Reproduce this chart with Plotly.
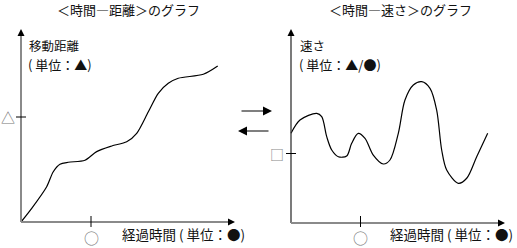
import plotly.graph_objects as go

# ---- data -------------------------------------------------------------
# distance graph: elapsed time (unit ○) vs distance travelled (unit △)
dist_time = [0, 0.153, 0.367, 0.461, 0.557, 0.676, 0.914, 1.081, 1.296, 1.510,
             1.653, 1.819, 1.961, 2.104, 2.247, 2.604, 2.810]
dist_value = [0, 0.130, 0.336, 0.479, 0.550, 0.569, 0.588, 0.670, 0.724, 0.765,
              0.845, 1.050, 1.226, 1.321, 1.369, 1.407, 1.486]

# speed graph: elapsed time (unit ○) vs speed (unit □)
speed_time = [0, 0.129, 0.370, 0.442, 0.514, 0.586, 0.681, 0.801, 0.873, 0.968,
              1.065, 1.184, 1.328, 1.424, 1.544, 1.640, 1.760, 1.881, 2.0, 2.096,
              2.168, 2.240, 2.407, 2.528, 2.672, 2.830]
speed_value = [1.281, 1.471, 1.567, 1.519, 1.233, 1.043, 0.947, 0.957, 1.139, 1.281,
               1.210, 0.971, 0.843, 0.900, 1.281, 1.757, 1.971, 2.019, 1.924, 1.614,
               1.043, 0.757, 0.567, 0.639, 0.947, 1.281]

titles = ["＜時間―距離＞のグラフ", "＜時間―速さ＞のグラフ"]
y_labels = [["移動距離", "( 単位：▲)"], ["速さ", "( 単位：▲/●)"]]
x_label = "経過時間 ( 単位：●)"
x_tick_symbol = "○"
y_tick_symbols = ["△", "□"]

# ---- layout geometry (pixels) ------------------------------------------
W, H = 517, 248
SPLIT = 258.5
L_OX, L_OY, L_SX, L_SY = 21, 222, 70, 105
R_OX, R_OY, R_SX, R_SY = 291, 223, 69.5, 70

FONT = "Noto Sans CJK JP, Noto Sans, sans-serif"
GRAY = "#8a8a8a"


def xp(px):
    return px / W


def yp(py):
    return 1 - py / H


fig = go.Figure()
fig.add_trace(go.Scatter(x=dist_time, y=dist_value, mode="lines",
                         line=dict(color="black", width=1.2, shape="spline", smoothing=0.8),
                         xaxis="x", yaxis="y", hoverinfo="skip"))
fig.add_trace(go.Scatter(x=speed_time, y=speed_value, mode="lines",
                         line=dict(color="black", width=1.2, shape="spline", smoothing=0.9),
                         xaxis="x2", yaxis="y2", hoverinfo="skip"))

hidden = dict(visible=False, fixedrange=True)
fig.update_layout(
    width=W, height=H, margin=dict(l=0, r=0, t=0, b=0),
    paper_bgcolor="white", plot_bgcolor="white", showlegend=False,
    xaxis=dict(domain=[0, SPLIT / W], range=[-L_OX / L_SX, (SPLIT - L_OX) / L_SX], **hidden),
    yaxis=dict(domain=[0, 1], range=[(L_OY - H) / L_SY, L_OY / L_SY], **hidden),
    xaxis2=dict(domain=[SPLIT / W, 1], range=[(SPLIT - R_OX) / R_SX, (W - R_OX) / R_SX], **hidden),
    yaxis2=dict(domain=[0, 1], range=[(R_OY - H) / R_SY, R_OY / R_SY], **hidden, anchor="x2"),
)

shapes = []
ann = []


def axis_line(x0, y0, x1, y1, color, width):
    shapes.append(dict(type="line", xref="paper", yref="paper",
                       x0=xp(x0), y0=yp(y0), x1=xp(x1), y1=yp(y1),
                       line=dict(color=color, width=width)))


def arrow(tx, ty, dx, dy, size=1.4, width=1):
    # black arrow whose head sits at (tx, ty); (dx, dy) is the tail offset in pixels
    ann.append(dict(x=xp(tx), y=yp(ty), xref="paper", yref="paper",
                    ax=dx, ay=dy, axref="pixel", ayref="pixel",
                    showarrow=True, arrowhead=2, arrowsize=size, arrowwidth=width,
                    arrowcolor="black", text=""))


def text(px, py, s, size=12.5, color="#111", anchor="center"):
    ann.append(dict(x=xp(px), y=yp(py), xref="paper", yref="paper", text=s,
                    showarrow=False, font=dict(family=FONT, size=size, color=color),
                    xanchor=anchor, yanchor="middle"))


# left chart axes
axis_line(L_OX, L_OY, L_OX, 34, GRAY, 2)
arrow(L_OX, 29, 0, 6)
axis_line(L_OX, L_OY, 230, L_OY, GRAY, 2)
arrow(235, L_OY, -6, 0)
axis_line(L_OX - 5, 117, L_OX + 5, 117, "black", 1)
axis_line(L_OX + 70, 216, L_OX + 70, 227, "black", 1)

# right chart axes
axis_line(R_OX, R_OY, R_OX, 34, "#333", 1.3)
arrow(R_OX, 29, 0, 6)
axis_line(R_OX, R_OY, 500, R_OY, GRAY, 2)
arrow(505, R_OY, -6, 0)
axis_line(R_OX - 5, 153.5, R_OX + 5, 153.5, "black", 1)
axis_line(R_OX + 69.5, 216, R_OX + 69.5, 227, "black", 1)

# arrows between the two graphs
arrow(272, 111, -32, 0, size=1.5, width=1.2)
arrow(238, 131, 32, 0, size=1.5, width=1.2)

# titles
text(128, 10, titles[0], size=13)
text(400, 10, titles[1], size=13)

# axis labels
text(27, 45.5, y_labels[0][0], size=12.5, anchor="left")
text(26, 64.5, y_labels[0][1], size=13, anchor="left")
text(298, 45.5, y_labels[1][0], size=12.5, anchor="left")
text(297, 64.5, y_labels[1][1], size=13, anchor="left")
text(247, 234, x_label, size=13.5, anchor="right")
text(515, 234, x_label, size=13.5, anchor="right")

# tick symbols
text(L_OX + 70, 237, x_tick_symbol, size=15, color="#777")
text(R_OX + 69.5, 237, x_tick_symbol, size=15, color="#777")
text(8, 117, y_tick_symbols[0], size=14, color="#777")
text(277, 153.5, y_tick_symbols[1], size=14, color="#888")

fig.update_layout(shapes=shapes, annotations=ann)
fig.write_html("out.html")
